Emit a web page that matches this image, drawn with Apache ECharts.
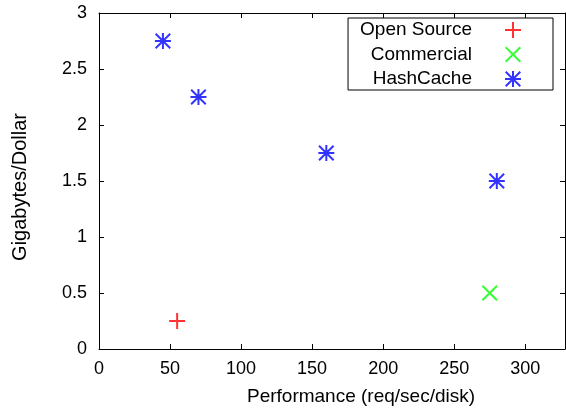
<!DOCTYPE html>
<html><head><meta charset="utf-8">
<script src="https://cdn.jsdelivr.net/npm/echarts@6/dist/echarts.min.js"></script>
<style>html,body{margin:0;padding:0;background:#fff}#c{width:566px;height:411px}</style>
</head><body><div id="c"></div>
<script>
const xTicks = [0, 50, 100, 150, 200, 250, 300];
const yTicks = [0, 0.5, 1, 1.5, 2, 2.5, 3];
const seriesNames = ['Open Source', 'Commercial', 'HashCache'];
const openSource = [[55, 0.25]];
const commercial = [[275, 0.5]];
const hashCache = [[45, 2.75], [70, 2.25], [160, 1.75], [280, 1.5]];

const PLUS = 'path://M0 7H16V9H0Z M7 0H9V16H7Z';
const CROSS = 'path://M0 1.4L1.4 0L16 14.6L14.6 16Z M14.6 0L16 1.4L1.4 16L0 14.6Z';
const STAR = 'path://M0 7H16V9H0Z M7 0H9V16H7Z M0 1.4L1.4 0L16 14.6L14.6 16Z M14.6 0L16 1.4L1.4 16L0 14.6Z';
const FONT = '"Liberation Sans", Arial, sans-serif';
const chart = echarts.init(document.getElementById('c'));
const axisCommon = {
  axisLine: {show: true, onZero: false, lineStyle: {color: '#000', width: 1}},
  axisTick: {show: true, inside: true, length: 5, lineStyle: {color: '#000'}},
  splitLine: {show: false}
};
chart.setOption({
  animation: false,
  textStyle: {fontFamily: FONT},
  grid: {left: 99, top: 13, right: 1, bottom: 59, containLabel: false},
  xAxis: [
    Object.assign({type: 'value', min: 0, max: 328, interval: 50, position: 'bottom',
      name: 'Performance (req/sec/disk)', nameLocation: 'middle', nameGap: 38,
      nameTextStyle: {fontSize: 19, color: '#000', fontFamily: FONT, padding: [0, 0, 0, 58]},
      axisLabel: {fontSize: 18, color: '#000', margin: 11, fontFamily: FONT,
        showMaxLabel: false,
        formatter: v => xTicks.includes(v) ? String(v) : ''}}, axisCommon),
    Object.assign({type: 'value', min: 0, max: 328, interval: 50, position: 'top',
      axisLabel: {show: false}}, axisCommon)
  ],
  yAxis: [
    Object.assign({type: 'value', min: 0, max: 3, interval: 0.5, position: 'left',
      name: 'Gigabytes/Dollar', nameLocation: 'middle', nameGap: 69, nameRotate: 90,
      nameTextStyle: {fontSize: 20, color: '#000', fontFamily: FONT, padding: [0, 12, 0, 0]},
      axisLabel: {fontSize: 18, color: '#000', margin: 12, fontFamily: FONT,
        formatter: v => yTicks.includes(v) ? String(v) : ''}}, axisCommon),
    Object.assign({type: 'value', min: 0, max: 3, interval: 0.5, position: 'right',
      axisLabel: {show: false}}, axisCommon)
  ],
  legend: {
    orient: 'vertical', align: 'right', right: 13, top: 18,
    itemWidth: 16, itemHeight: 16, itemGap: 5.5,
    padding: [2.5, 32, 1.5, 12],
    borderColor: '#000', borderWidth: 1, borderRadius: 0,
    textStyle: {fontSize: 19, color: '#000', fontFamily: FONT, padding: [0, 28, 0, 0]},
    data: [
      {name: seriesNames[0], icon: PLUS},
      {name: seriesNames[1], icon: CROSS},
      {name: seriesNames[2], icon: STAR}
    ]
  },
  series: [
    {name: seriesNames[0], type: 'scatter', data: openSource, symbol: PLUS, symbolSize: 16, itemStyle: {color: '#ff0000'}},
    {name: seriesNames[1], type: 'scatter', data: commercial, symbol: CROSS, symbolSize: 16, itemStyle: {color: '#00ff00'}},
    {name: seriesNames[2], type: 'scatter', data: hashCache, symbol: STAR, symbolSize: 16, itemStyle: {color: '#0000ff'}}
  ]
});
</script></body></html>
